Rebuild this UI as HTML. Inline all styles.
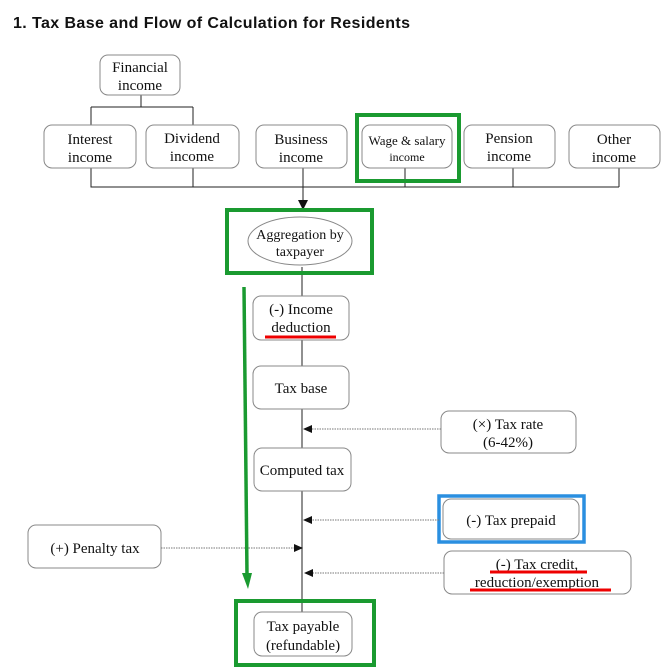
<!DOCTYPE html>
<html><head><meta charset="utf-8"><style>
html,body{margin:0;padding:0;background:#fff;}
svg{display:block;}
.t{font-family:"Liberation Serif",serif;font-size:15px;fill:#111;text-anchor:middle;}
.b{fill:#fff;stroke:#888;stroke-width:1;}
.l{stroke:#222;stroke-width:1;fill:none;}
.d{stroke:#777;stroke-width:1;stroke-dasharray:1.5 1;fill:none;}
.g{fill:none;stroke:#1a9a30;stroke-width:4;}
</style></head><body>
<svg width="667" height="671" viewBox="0 0 667 671" xmlns="http://www.w3.org/2000/svg">
<text x="13" y="28" font-family="Liberation Sans,sans-serif" font-size="16" font-weight="bold" fill="#111" textLength="397" lengthAdjust="spacing">1. Tax Base and Flow of Calculation for Residents</text>

<!-- top tree -->
<path class="l" d="M141 95V107M91 107H193M91 107V125M193 107V125"/>
<path class="l" d="M91 168V187H619M193 168V187M303 168V200M405 168V187M513 168V187M619 168V187"/>
<polygon points="298,200 308,200 303,210" fill="#111"/>

<rect class="b" x="100" y="55" width="80" height="40" rx="8"/>
<text class="t" x="140" y="72">Financial</text><text class="t" x="140" y="90">income</text>

<rect class="b" x="44" y="125" width="92" height="43" rx="8"/>
<text class="t" x="90" y="144">Interest</text><text class="t" x="90" y="162">income</text>
<rect class="b" x="146" y="125" width="93" height="43" rx="8"/>
<text class="t" x="192" y="143">Dividend</text><text class="t" x="192" y="161">income</text>
<rect class="b" x="256" y="125" width="91" height="43" rx="8"/>
<text class="t" x="301" y="144">Business</text><text class="t" x="301" y="162">income</text>
<rect class="b" x="362" y="125" width="90" height="43" rx="8"/>
<text class="t" x="407" y="145" style="font-size:13px">Wage &amp; salary</text><text class="t" x="407" y="161" style="font-size:12px">income</text>
<rect class="g" x="357" y="115" width="102" height="66"/>
<rect class="b" x="464" y="125" width="91" height="43" rx="8"/>
<text class="t" x="509" y="143">Pension</text><text class="t" x="509" y="161">income</text>
<rect class="b" x="569" y="125" width="91" height="43" rx="8"/>
<text class="t" x="614" y="144">Other</text><text class="t" x="614" y="162">income</text>

<!-- main line -->
<path class="l" d="M302 267V640"/>

<rect class="g" x="227" y="210" width="145" height="63"/>
<ellipse cx="300" cy="241" rx="52" ry="24" fill="#fff" stroke="#888"/>
<text class="t" x="300" y="239" style="font-size:14px">Aggregation by</text><text class="t" x="300" y="256" style="font-size:14px">taxpayer</text>

<rect class="b" x="253" y="296" width="96" height="44" rx="8"/>
<text class="t" x="301" y="314">(-) Income</text><text class="t" x="301" y="332">deduction</text>
<path d="M265 337H336" stroke="#e00" stroke-width="3"/>

<rect class="b" x="253" y="366" width="96" height="43" rx="8"/>
<text class="t" x="301" y="393">Tax base</text>

<rect class="b" x="254" y="448" width="97" height="43" rx="8"/>
<text class="t" x="302" y="475">Computed tax</text>

<!-- side inputs -->
<rect class="b" x="441" y="411" width="135" height="42" rx="8"/>
<text class="t" x="508" y="429">(×) Tax rate</text><text class="t" x="508" y="447">(6-42%)</text>
<path class="d" d="M441 429H306"/><path d="M312 425L303 429L312 433" fill="#111"/>

<rect class="b" x="443" y="499" width="136" height="40" rx="8"/>
<text class="t" x="511" y="525">(-) Tax prepaid</text>
<rect x="439" y="496" width="145" height="46" fill="none" stroke="#2a8fe0" stroke-width="3.5"/>
<path class="d" d="M439 520H306"/><path d="M312 516L303 520L312 524" fill="#111"/>

<rect class="b" x="28" y="525" width="133" height="43" rx="8"/>
<text class="t" x="95" y="553">(+) Penalty tax</text>
<path class="d" d="M161 548H297"/><path d="M294 544L303 548L294 552" fill="#111"/>

<rect class="b" x="444" y="551" width="187" height="43" rx="8"/>
<text class="t" x="537" y="569">(-) Tax credit,</text><text class="t" x="537" y="587">reduction/exemption</text>
<path d="M490 572H587M470 590H611" stroke="#e00" stroke-width="3"/>
<path class="d" d="M444 573H308"/><path d="M313 569L304 573L313 577" fill="#111"/>

<rect class="g" x="236" y="601" width="138" height="64"/>
<rect class="b" x="254" y="612" width="98" height="44" rx="8"/>
<text class="t" x="303" y="631">Tax payable</text><text class="t" x="303" y="650">(refundable)</text>

<!-- green arrow -->
<path d="M244 287L247 575" stroke="#1a9a30" stroke-width="3.5"/>
<polygon points="242,573 252,573 248,589" fill="#1a9a30"/>
</svg>
</body></html>
